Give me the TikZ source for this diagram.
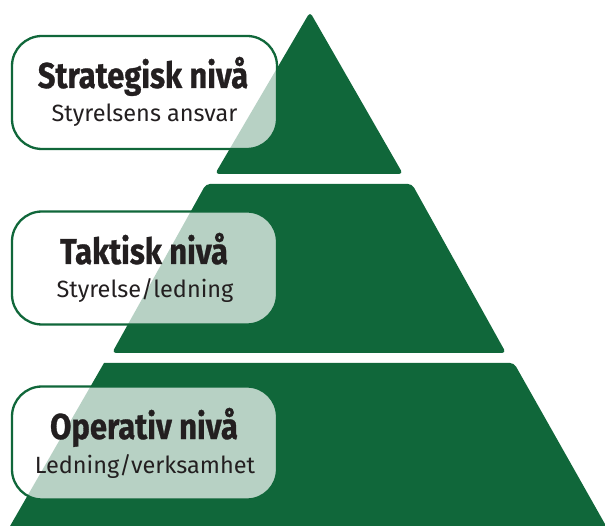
\documentclass[tikz,border=0pt]{standalone}
\usepackage{fontspec}
\setmainfont{Fira Sans}
\newfontfamily\titlefont[FakeStretch=0.86, BoldFeatures={FakeBold=0.8}]{Fira Sans}
\newfontfamily\subfont{Fira Sans}
\definecolor{pgreen}{HTML}{10673A}
\definecolor{ink}{HTML}{231F20}
\tikzset{
  tier/.style={fill=pgreen, draw=none, rounded corners=4pt},
  labelbox/.style={draw=pgreen, line width=2.3pt, fill=white, fill opacity=0.7,
    rounded corners=30pt, minimum width=265pt, minimum height=113pt, inner sep=0pt},
  titletext/.style={anchor=base, text=ink, font=\titlefont\bfseries\fontsize{36}{40}\selectfont, inner sep=0pt},
  subtext/.style={anchor=base, text=ink, font=\subfont\fontsize{23.5}{28}\selectfont, inner sep=0pt}
}
\begin{document}
\begin{tikzpicture}[x=1pt,y=-1pt]
\useasboundingbox (0,0) rectangle (605,526);
% pyramid tiers
\path[tier] (310,12) -- (403,174) -- (215,174) -- cycle;
\path[tier] (206,184) -- (412,184) -- (506,353) -- (112,353) -- cycle;
\path[tier, rounded corners=0pt] (104,363) [rounded corners=4pt] -- (514,363) [rounded corners=0pt] -- (614,540) -- (2,540) -- cycle;
% label boxes
\node[labelbox] (b1) at (144.5,92.5) {};
\node[labelbox] (b2) at (144.5,268) {};
\node[labelbox] (b3) at (144.5,443) {};
% texts
\node[titletext] (t1) at (143,88) {Strategisk nivå};
\node[subtext] (s1) at (144.5,122) {Styrelsens ansvar};
\node[titletext] (t2) at (144,264) {Taktisk nivå};
\node[subtext] (s2) at (145,298) {Styrelse/ledning};
\node[titletext] (t3) at (144,439) {Operativ nivå};
\node[subtext] (s3) at (145,473) {Ledning/verksamhet};
\end{tikzpicture}
\end{document}
